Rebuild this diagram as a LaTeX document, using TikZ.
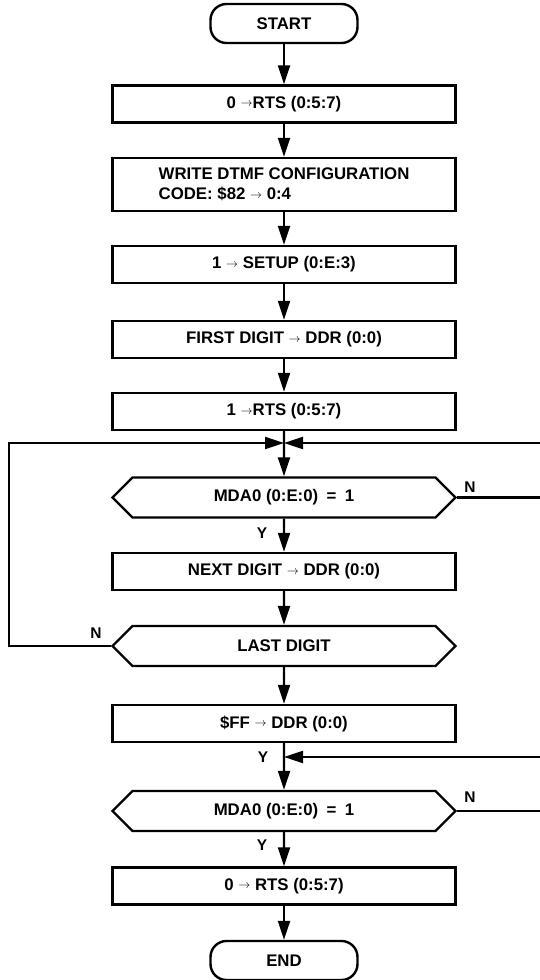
\documentclass[tikz,border=0pt]{standalone}
\usepackage{fontspec}
\setmainfont{Liberation Sans}
\usetikzlibrary{arrows.meta, shapes.symbols}
\newcommand{\into}{\raisebox{1.5pt}{\fontsize{13}{13}\selectfont$\rightarrow$}}
\tikzset{
  flow/.style={line width=2.2pt, -{Triangle[length=19pt, width=12pt]}},
  procbox/.style={draw, line width=2.4pt, minimum width=343pt, minimum height=37pt, inner sep=2pt},
  termbox/.style={draw, line width=2.4pt, rounded corners=16pt, minimum width=147pt, minimum height=39pt},
  decbox/.style={draw, line width=2.4pt, shape=signal, signal to=west and east, minimum width=343pt, minimum height=40pt, inner sep=2pt},
  flag/.style={font=\bfseries\fontsize{15.5}{16}\selectfont}
}
\begin{document}
\begin{tikzpicture}[x=1pt, y=-1pt, font=\bfseries\fontsize{16.8}{20}\selectfont]
  \clip (0,0) rectangle (540,980);
  \fill[white] (0,0) rectangle (540,980);
  \node[termbox] (start) at (284,23.5) {START};
  \node[procbox] (rts0) at (284,104) {0 \into RTS (0:5:7)};
  \node[procbox, minimum height=53pt, align=left] (cfg) at (284,184.5) {WRITE DTMF CONFIGURATION\\CODE: \$82 \into\ 0:4};
  \node[procbox] (setup) at (284,264.5) {1 \into\ SETUP (0:E:3)};
  \node[procbox] (first) at (284,339.5) {FIRST DIGIT \into\ DDR (0:0)};
  \node[procbox] (rts1) at (284,411.5) {1 \into RTS (0:5:7)};
  \node[decbox] (mda1) at (284,497.5) {MDA0 (0:E:0)\enspace=\enspace1};
  \node[procbox] (next) at (284,571.5) {NEXT DIGIT \into\ DDR (0:0)};
  \node[decbox] (last) at (284,646) {LAST DIGIT};
  \node[procbox] (ff) at (284,723.5) {\$FF \into\ DDR (0:0)};
  \node[decbox] (mda2) at (284,811) {MDA0 (0:E:0)\enspace=\enspace1};
  \node[procbox] (rts2) at (284,886) {0 \into\ RTS (0:5:7)};
  \node[termbox] (stop) at (284,960.5) {END};
  % main flow
  \draw[flow] (start) -- (rts0);
  \draw[flow] (rts0) -- (cfg);
  \draw[flow] (cfg) -- (setup);
  \draw[flow] (setup) -- (first);
  \draw[flow] (first) -- (rts1);
  \draw[flow] (rts1) -- (mda1);
  \draw[flow] (mda1) -- (next);
  \draw[flow] (next) -- (last);
  \draw[flow] (last) -- (ff);
  \draw[flow] (ff) -- (mda2);
  \draw[flow] (mda2) -- (rts2);
  \draw[flow] (rts2) -- (stop);
  % loops back
  \coordinate (j1) at (284,443);
  \coordinate (lft) at (9,443);
  \coordinate (rgt1) at (548,443);
  \coordinate (j2) at (284,757);
  \coordinate (rgt2) at (548,757);
  \draw[flow] (last.west) -| (lft) -- (j1);
  \draw[flow] (mda1.east) -| (rgt1) -- (j1);
  \draw[flow] (mda2.east) -| (rgt2) -- (j2);
  % branch labels
  \node[flag] (n1) at (470,487) {N};
  \node[flag] (y1) at (262,533) {Y};
  \node[flag] (n2) at (96,633) {N};
  \node[flag] (y2) at (263,757) {Y};
  \node[flag] (n3) at (470,797) {N};
  \node[flag] (y3) at (262,845) {Y};
\end{tikzpicture}
\end{document}
